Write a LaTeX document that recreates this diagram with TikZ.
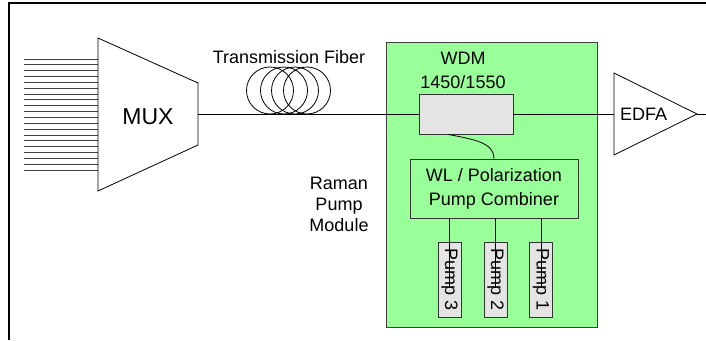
\documentclass[tikz,border=0pt]{standalone}
\usepackage{fontspec}
\setmainfont{Liberation Sans}
\usepackage{tikz}
\usetikzlibrary{positioning,calc}
\usepackage{xcolor}
\definecolor{modgreen}{RGB}{153,255,153}
\definecolor{wdmgray}{RGB}{228,228,228}

\begin{document}
\begin{tikzpicture}[
        x=1pt, y=-1pt,
        lbl/.style={inner sep=0pt, align=center, font=\fontsize{18}{24}\selectfont},
        graybox/.style={rectangle, draw=black!80, fill=wdmgray, line width=0.8pt, inner sep=0pt},
        pumpbox/.style={graybox, rotate=-90, minimum width=75pt, minimum height=23pt, font=\fontsize{18}{22}\selectfont},
        fiber/.style={line width=0.8pt},
        inline/.style={line width=0.8pt, black!75}
    ]
        \useasboundingbox (0,0) rectangle (706,340);

        % Frame
        \draw[line width=2pt] (9,340) -- (9,3) -- (706,3);

        % MUX with input channels
        \foreach \i in {0,...,19}
            \draw[inline] (24,59+\i*5.84) -- (98,59+\i*5.84);
        \draw[fiber] (98,38) -- (198,83) -- (198,145) -- (98,191) -- cycle;
        \coordinate (muxout) at (198,114);
        \node[lbl, font=\fontsize{23}{26}\selectfont] (mux) at (148,117) {MUX};

        % Transmission fiber coil
        \foreach \cx in {270,284,295,307}
            \draw[fiber] (\cx,90.5) circle[radius=23.5pt];
        \node[lbl] (fiberlbl) at (289,57.5) {Transmission Fiber};

        % Raman pump module
        \node[rectangle, draw=black!75, fill=modgreen, line width=0.8pt, minimum width=211pt, minimum height=285pt] (module) at (491.5,184.5) {};
        \node[lbl, font=\fontsize{18}{21}\selectfont] (ramanlbl) at (339,204) {Raman\\Pump\\Module};

        \node[graybox, minimum width=94pt, minimum height=40pt] (wdm) at (466,114) {};
        \node[lbl] (wdmlbl) at (463,70) {WDM\\1450/1550};

        \node[rectangle, draw=black!80, line width=0.8pt, minimum width=168pt, minimum height=59pt, lbl] (comb) at (494,188.5) {WL / Polarization\\Pump Combiner};

        \node[pumpbox] (p3) at (449.5,279.5) {Pump 3};
        \node[pumpbox] (p2) at (495.5,279.5) {Pump 2};
        \node[pumpbox] (p1) at (541,279.5) {Pump 1};

        % EDFA
        \draw[fiber] (614,73) -- (697,114) -- (614,155) -- cycle;
        \coordinate (edfain) at (614,114);
        \coordinate (edfaout) at (697,114);
        \coordinate (out) at (706,114);
        \node[lbl] (edfa) at (643.5,114.5) {EDFA};

        % Connections
        \draw[fiber] (muxout) -- (wdm.west);
        \draw[fiber] (wdm.east) -- (edfain);
        \draw[fiber] (edfaout) -- (out);
        \draw[fiber] ([xshift=-18pt]wdm.south) .. controls +(26,5) and +(0,-16) .. (comb.north);
        \foreach \p in {p3,p2,p1}
            \draw[fiber] (comb.south -| \p.center) -- ([yshift=-8pt]\p.center);

    \end{tikzpicture}
\end{document}
